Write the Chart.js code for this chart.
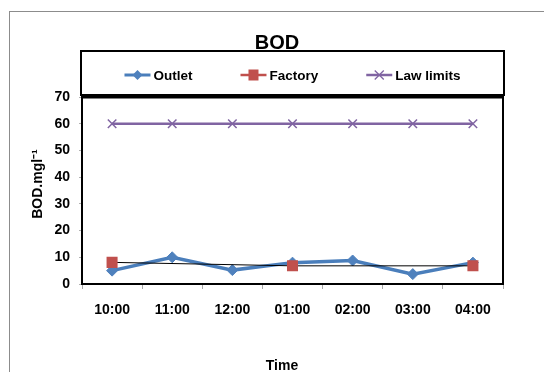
<!DOCTYPE html>
<html>
<head>
<meta charset="utf-8">
<script src="https://cdn.jsdelivr.net/npm/chart.js@4/dist/chart.umd.min.js"></script>
<style>
  html, body { margin: 0; padding: 0; background: #fff; width: 544px; height: 372px; overflow: hidden; }
  #frame { position: absolute; left: 9px; top: 11px; width: 600px; height: 400px;
           border-left: 1.5px solid #8c8c8c; border-top: 1.5px solid #8c8c8c; }
  #c { position: absolute; left: 0; top: 0; }
</style>
</head>
<body>
<div id="frame"></div>
<canvas id="c" width="544" height="372"></canvas>
<script>
// Sampling times and BOD readings (mg/l)
const times = ['10:00', '11:00', '12:00', '01:00', '02:00', '03:00', '04:00'];
const outlet = [5.0, 10.0, 5.2, 8.0, 8.8, 3.7, 8.0];
const factory = [8.1, null, null, 6.8, null, null, 6.8];
const lawLimits = [60, 60, 60, 60, 60, 60, 60];
const yTicks = [0, 10, 20, 30, 40, 50, 60, 70];

const FONT = '"Liberation Sans", Arial, sans-serif';
const BLUE = '#4A7EBB', BLUE_PT = '#4F81BD', RED = '#C0504D', PURPLE = '#8064A2';

const legendItems = [
  { text: 'Outlet', color: BLUE, marker: 'diamond' },
  { text: 'Factory', color: RED, marker: 'square' },
  { text: 'Law limits', color: PURPLE, marker: 'x' }
];

function drawMarker(ctx, kind, x, y, color) {
  ctx.save();
  ctx.fillStyle = color;
  ctx.strokeStyle = color;
  ctx.beginPath();
  if (kind === 'diamond') {
    const r = 5;
    ctx.moveTo(x - r, y); ctx.lineTo(x, y - r); ctx.lineTo(x + r, y); ctx.lineTo(x, y + r);
    ctx.closePath(); ctx.fill();
  } else if (kind === 'square') {
    ctx.fillRect(x - 5, y - 5.5, 10, 11);
  } else {
    const r = 4.5;
    ctx.lineWidth = 1.3;
    ctx.moveTo(x - r, y - r); ctx.lineTo(x + r, y + r);
    ctx.moveTo(x - r, y + r); ctx.lineTo(x + r, y - r);
    ctx.stroke();
  }
  ctx.restore();
}

const decor = {
  id: 'decor',
  afterDatasetsDraw(chart) {
    const { ctx, chartArea: a } = chart;
    ctx.save();
    // plot area frame
    ctx.strokeStyle = '#000';
    ctx.lineWidth = 2;
    ctx.beginPath();
    ctx.moveTo(a.left, a.top); ctx.lineTo(a.left, a.bottom); ctx.lineTo(a.right, a.bottom); ctx.lineTo(a.right, a.top);
    ctx.stroke();
    ctx.lineWidth = 3;
    ctx.beginPath(); ctx.moveTo(a.left - 1, a.top); ctx.lineTo(a.right + 1, a.top); ctx.stroke();

    // legend box
    const boxTop = 51, boxBottom = 95;
    ctx.lineWidth = 2;
    ctx.strokeRect(a.left - 1, boxTop, a.right - a.left + 2, boxBottom - boxTop);

    // legend entries
    ctx.font = 'bold 13.5px ' + FONT;
    ctx.textBaseline = 'middle';
    ctx.textAlign = 'left';
    const lineLen = 26, gapText = 3, gapItem = 48;
    const widths = legendItems.map(it => lineLen + gapText + ctx.measureText(it.text).width);
    const total = widths.reduce((s, w) => s + w, 0) + gapItem * (legendItems.length - 1);
    let x = (a.left + a.right) / 2 - total / 2;
    const ly = 75;
    legendItems.forEach((it, i) => {
      ctx.strokeStyle = it.color;
      ctx.lineWidth = it.marker === 'diamond' ? 3 : 2.5;
      ctx.beginPath(); ctx.moveTo(x, ly); ctx.lineTo(x + lineLen, ly); ctx.stroke();
      drawMarker(ctx, it.marker, x + lineLen / 2, ly, it.color === BLUE ? BLUE_PT : it.color);
      ctx.fillStyle = '#000';
      ctx.fillText(it.text, x + lineLen + gapText, ly + 1);
      x += widths[i] + gapItem;
    });

    // chart title
    ctx.textAlign = 'center';
    ctx.textBaseline = 'alphabetic';
    ctx.font = 'bold 20px ' + FONT;
    ctx.fillText('BOD', 277, 49);

    // x axis title
    ctx.font = 'bold 14px ' + FONT;
    ctx.fillText('Time', 282, 370);

    // y axis title
    ctx.translate(42, 184);
    ctx.rotate(-Math.PI / 2);
    ctx.font = 'bold 14px ' + FONT;
    ctx.fillText('BOD.mgl\u207B\u00B9', 0, 0);
    ctx.restore();
  }
};

new Chart(document.getElementById('c'), {
  type: 'line',
  data: {
    labels: times,
    datasets: [
      {
        label: 'Factory', data: factory, order: 0, spanGaps: true, tension: 0,
        borderColor: '#000', borderWidth: 1,
        pointStyle: 'rect', pointRadius: 7.8, pointBorderWidth: 0,
        pointBackgroundColor: RED, pointBorderColor: RED
      },
      {
        label: 'Outlet', data: outlet, order: 1, tension: 0,
        borderColor: BLUE, borderWidth: 3.5,
        pointStyle: 'rectRot', pointRadius: 5.5, pointBorderWidth: 1,
        pointBackgroundColor: BLUE_PT, pointBorderColor: BLUE_PT
      },
      {
        label: 'Law limits', data: lawLimits, order: 2, tension: 0,
        borderColor: PURPLE, borderWidth: 2.5,
        pointStyle: 'crossRot', pointRadius: 6, pointBorderWidth: 1.5,
        pointBackgroundColor: PURPLE, pointBorderColor: PURPLE
      }
    ]
  },
  options: {
    responsive: false,
    animation: false,
    devicePixelRatio: 1,
    layout: { padding: { left: 20, right: 41, top: 97, bottom: 0 } },
    plugins: { legend: { display: false }, title: { display: false }, tooltip: { enabled: false } },
    scales: {
      x: {
        type: 'category', offset: true,
        grid: { display: true, drawOnChartArea: false, offset: true, color: '#a8a8a8', tickLength: 5 },
        border: { display: false },
        ticks: { color: '#000', font: { family: FONT, size: 14, weight: 'bold' }, padding: 13, maxRotation: 0 },
        afterFit(s) { s.height = 88; }
      },
      y: {
        min: 0, max: 70,
        afterBuildTicks(s) { s.ticks = yTicks.map(v => ({ value: v })); },
        grid: { drawOnChartArea: false, color: '#b0b0b0', tickLength: 3 },
        border: { display: false },
        ticks: { color: '#000', font: { family: FONT, size: 14, weight: 'bold' }, padding: 9 },
        afterFit(s) { s.width = 62; }
      }
    }
  },
  plugins: [decor]
});
</script>
</body>
</html>
